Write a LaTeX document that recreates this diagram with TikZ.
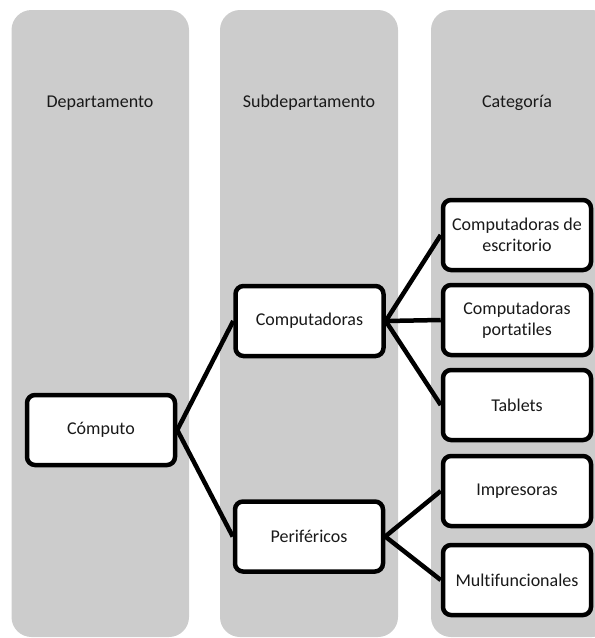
\documentclass[tikz,border=0pt]{standalone}
\usepackage{fontspec}
\setmainfont{Carlito}[Ligatures=NoCommon]
\pgfdeclarelayer{lanes}
\pgfdeclarelayer{links}
\pgfsetlayers{lanes,links,main}
\begin{document}
\begin{tikzpicture}[x=1pt,y=-1pt,
  lane/.style={fill=black!20, draw=none, rounded corners=20pt},
  head/.style={text=black!90, font=\fontsize{18}{21}\selectfont},
  box/.style={draw=black, line width=4.5pt, fill=white, rounded corners=8pt,
    minimum width=148pt, minimum height=70pt, align=center, inner sep=2pt,
    text=black!90, font=\fontsize{18}{21}\selectfont},
  link/.style={line width=4.5pt, draw=black}]
\useasboundingbox (0,0) rectangle (595,638);
% three lanes
\begin{pgfonlayer}{lanes}
\clip (0,0) rectangle (595,638);
\fill[lane] (11.5,10) rectangle (189,637);
\fill[lane] (220,10) rectangle (398,637);
\fill[lane] (431,10) rectangle (612,637);
\end{pgfonlayer}
% lane titles
\node[head] (h1) at (100,103) {Departamento};
\node[head] (h2) at (309,103) {Subdepartamento};
\node[head] (h3) at (517,103) {Categoría};
% hierarchy
\node[box] (comp) at (101,430) {Cómputo};
\node[box] (cpu) at (309.5,321) {Computadoras};
\node[box] (per) at (309,536.5) {Periféricos};
\node[box] (esc) at (517,235) {Computadoras de\\escritorio};
\node[box] (port) at (517,320) {Computadoras\\portatiles};
\node[box] (tab) at (517,405) {Tablets};
\node[box] (imp) at (517,491) {Impresoras};
\node[box] (mult) at (517,580) {Multifuncionales};
% connectors, kept under the boxes
\begin{pgfonlayer}{links}
\draw[link] (comp.east) -- (cpu.west);
\draw[link] (comp.east) -- (per.west);
\draw[link] (cpu.east) -- (esc.west);
\draw[link] (cpu.east) -- (port.west);
\draw[link] (cpu.east) -- (tab.west);
\draw[link] (per.east) -- (imp.west);
\draw[link] (per.east) -- (mult.west);
\end{pgfonlayer}
\end{tikzpicture}
\end{document}
